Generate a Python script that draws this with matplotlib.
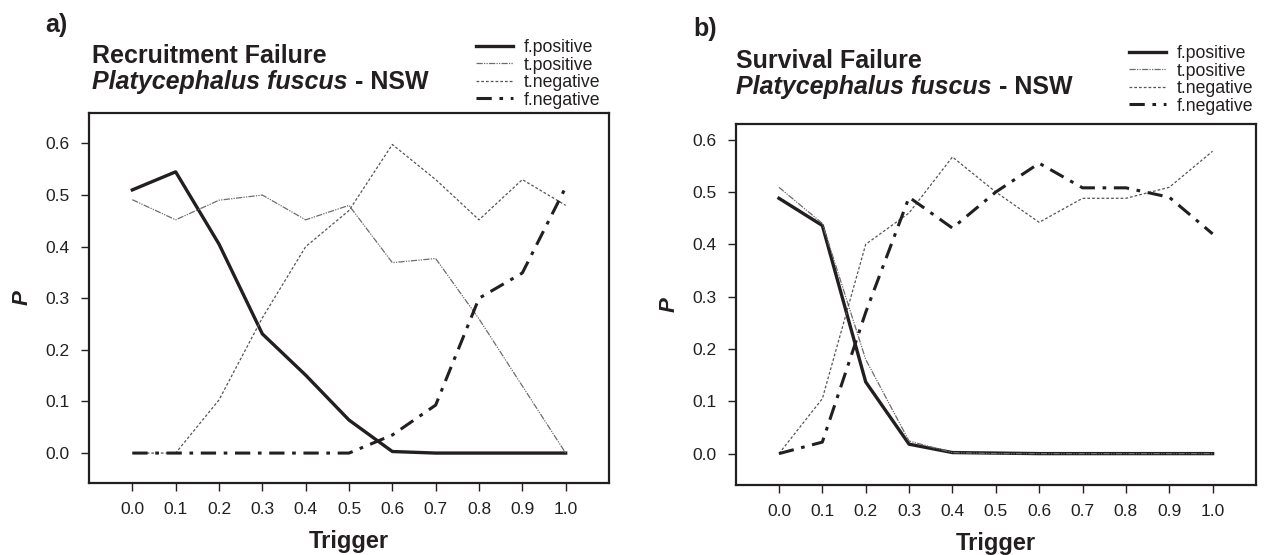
import numpy as np
import matplotlib
matplotlib.use('Agg')
import matplotlib.pyplot as plt
from matplotlib.lines import Line2D

plt.rcParams['font.family'] = ['Liberation Sans', 'DejaVu Sans']

# ── data ───────────────────────────────────────────────────────────────
trigger = [0.0, 0.1, 0.2, 0.3, 0.4, 0.5, 0.6, 0.7, 0.8, 0.9, 1.0]
tick_labels = ['0.0', '0.1', '0.2', '0.3', '0.4', '0.5', '0.6', '0.7', '0.8', '0.9', '1.0']
y_ticks = [0.0, 0.1, 0.2, 0.3, 0.4, 0.5, 0.6]

# a) Recruitment failure
rf_fpos = [0.510, 0.545, 0.405, 0.231, 0.151, 0.064, 0.003, 0.0, 0.0, 0.0, 0.0]
rf_tpos = [0.491, 0.452, 0.490, 0.500, 0.452, 0.480, 0.369, 0.377, 0.260, 0.130, 0.0]
rf_tneg = [0.0, 0.0, 0.103, 0.262, 0.400, 0.470, 0.598, 0.530, 0.452, 0.530, 0.480]
rf_fneg = [0.0, 0.0, 0.0, 0.0, 0.0, 0.0, 0.035, 0.093, 0.300, 0.349, 0.515]

# b) Survival failure
sf_fpos = [0.488, 0.436, 0.137, 0.018, 0.002, 0.001, 0.0, 0.0, 0.0, 0.0, 0.0]
sf_tpos = [0.509, 0.440, 0.180, 0.024, 0.002, 0.0, 0.0, 0.0, 0.0, 0.0, 0.0]
sf_tneg = [0.0, 0.105, 0.400, 0.460, 0.567, 0.500, 0.442, 0.488, 0.488, 0.509, 0.578]
sf_fneg = [0.0, 0.022, 0.270, 0.490, 0.431, 0.500, 0.555, 0.508, 0.508, 0.490, 0.420]

series_names = ['f.positive', 't.positive', 't.negative', 'f.negative']

# ── styles ─────────────────────────────────────────────────────────────
INK = '#231f20'
styles = {
    'f.positive': dict(color=INK, lw=2.4, ls='-'),
    't.positive': dict(color='#6d6d6d', lw=0.9, ls=(0, (5, 1, 1, 1, 1, 1))),
    't.negative': dict(color='#555555', lw=0.9, ls=(0, (2.2, 1.6))),
    'f.negative': dict(color=INK, lw=2.2, ls=(0, (5, 2.5, 1.2, 2.5))),
}

W, H = 1264, 555
fig = plt.figure(figsize=(W / 100, H / 100), dpi=100)
fig.patch.set_facecolor('white')


def px(x, y):
    # pixel position (from top-left) -> figure fraction
    return x / W, 1 - y / H


def panel(rect, ylim, data, letter, letter_xy, title, title_xy, leg_xy):
    ax = fig.add_axes(rect)
    for name, vals in zip(series_names, data):
        ax.plot(trigger, vals, **styles[name])
    ax.set_xlim(-0.1, 1.1)
    ax.set_ylim(*ylim)
    ax.set_xticks(trigger)
    ax.set_xticklabels(tick_labels)
    ax.set_yticks(y_ticks)
    ax.set_yticklabels([f'{v:.1f}' for v in y_ticks])
    ax.tick_params(direction='out', length=6, width=1.0, colors=INK,
                   labelsize=12.5, pad=8)
    for s in ax.spines.values():
        s.set_linewidth(1.6)
        s.set_color(INK)
    ax.set_xlabel('Trigger', fontsize=17, fontweight='bold', color=INK, labelpad=9)
    ax.set_ylabel('P', fontsize=16, fontweight='bold', style='italic',
                  color=INK, labelpad=9)

    fig.text(*px(*letter_xy), letter, fontsize=18, fontweight='bold',
             color=INK, va='center', ha='left')
    tx, ty = title_xy
    fig.text(*px(tx, ty), title, fontsize=18, fontweight='bold', color=INK,
             va='center', ha='left')
    t2 = fig.text(*px(tx, ty + 26), 'Platycephalus fuscus', fontsize=18,
                  fontweight='bold', style='italic', color=INK,
                  va='center', ha='left')
    handles = [Line2D([], [], **styles[n]) for n in series_names]
    fig.legend(handles, series_names, loc='upper left',
               bbox_to_anchor=px(*leg_xy), frameon=False, fontsize=12.7,
               handlelength=2.1, handletextpad=0.6, labelspacing=0.03,
               borderpad=0, borderaxespad=0, labelcolor=INK)
    return ax, t2


axL, tL = panel([89 / W, (H - 483) / H, 520 / W, 370 / H], (-0.058, 0.659),
                [rf_fpos, rf_tpos, rf_tneg, rf_fneg],
                'a)', (45, 25), 'Recruitment Failure', (92, 56), (476, 39))
axR, tR = panel([735.6 / W, (H - 485) / H, 520.4 / W, 361 / H], (-0.06, 0.63),
                [sf_fpos, sf_tpos, sf_tneg, sf_fneg],
                'b)', (693, 29), 'Survival Failure', (736, 61), (1129, 45))

# " - NSW" goes right after the italic species name
fig.canvas.draw()
r = fig.canvas.get_renderer()
for t2 in (tL, tR):
    bb = t2.get_window_extent(r)
    x0, y0 = fig.transFigure.inverted().transform((bb.x1, (bb.y0 + bb.y1) / 2))
    fig.text(x0, y0, ' - NSW', fontsize=18, fontweight='bold', color=INK,
             va='center', ha='left')

fig.savefig('out.png', dpi=100, facecolor='white')
